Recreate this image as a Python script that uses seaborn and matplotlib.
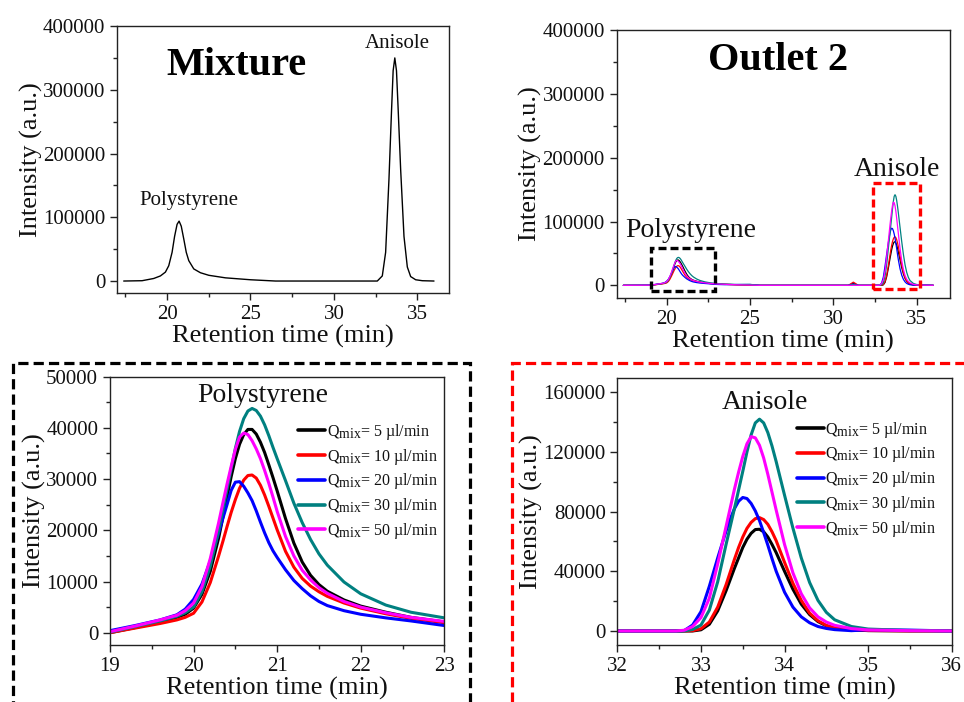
import matplotlib
matplotlib.use("Agg")
import numpy as np
import pandas as pd
import seaborn as sns
import matplotlib.pyplot as plt
from matplotlib.patches import Rectangle
from matplotlib.lines import Line2D
from matplotlib.ticker import MultipleLocator

try:  # larger subscripts in mathtext, as in the reference legend
    import matplotlib._mathtext as _mt
    _mt.SHRINK_FACTOR = 0.85
except Exception:
    pass

# ---------------- data ----------------
flows = [5, 10, 20, 30, 50]
colors = ["#000000", "#FF0000", "#0000FF", "#008080", "#FF00FF"]

# Mixture chromatogram
mix_time = [17.4, 18.5, 19.2, 19.6, 19.9, 20.1, 20.3, 20.45, 20.6, 20.72, 20.85, 21.0, 21.15,
            21.3, 21.6, 22.0, 22.5, 23.5, 25.0, 26.5, 32.6, 32.9, 33.1, 33.3, 33.45, 33.55,
            33.65, 33.75, 33.85, 34.0, 34.2, 34.4, 34.6, 34.9, 35.3, 36.0]
mix_signal = [0, 500, 4000, 8000, 14000, 24000, 45000, 70000, 89000, 94000, 86000, 66000, 45000,
              32000, 19000, 13000, 9000, 5000, 2000, 0, 0, 8000, 45000, 160000, 265000, 330000,
              350000, 330000, 270000, 175000, 70000, 22000, 7000, 2000, 500, 0]

# Polystyrene region (Outlet 2)
ps_time = [19.0, 19.3, 19.6, 19.8, 19.9, 20.0, 20.1, 20.2, 20.3, 20.35, 20.4, 20.45, 20.5,
           20.55, 20.6, 20.65, 20.7, 20.75, 20.8, 20.85, 20.9, 20.95, 21.0, 21.1, 21.2, 21.3,
           21.4, 21.5, 21.6, 21.8, 22.0, 22.3, 22.6, 23.0]
ps_q5 = [0, 1000, 2100, 3000, 3600, 4800, 7500, 12000, 18500, 22500, 26500, 30500, 34000,
         36800, 38700, 39700, 39700, 38800, 37200, 35200, 32800, 30300, 27700, 22300, 17500, 13800,
         11200, 9400, 8100, 6400, 5200, 4000, 3000, 2100]
ps_q10 = [0, 900, 1800, 2500, 3000, 3800, 6000, 9800, 15000, 17800, 20700, 23500, 26000,
          28200, 29800, 30700, 30800, 30200, 28800, 26900, 24700, 22400, 20100, 15900, 12800, 10600,
          9100, 8000, 7100, 5800, 4800, 3700, 2800, 1950]
ps_q20 = [400, 1400, 2500, 3500, 4600, 6500, 9500, 14000, 19500, 22300, 25000, 27800, 29400,
          29500, 28600, 27300, 25800, 23800, 21600, 19500, 17600, 16000, 14700, 12300, 10200, 8600,
          7200, 6100, 5300, 4300, 3600, 2900, 2300, 1400]
ps_q30 = [100, 1200, 2300, 3200, 3900, 5000, 8000, 13000, 20000, 24000, 28000, 32000, 36000,
          39300, 41800, 43300, 43800, 43400, 42300, 40600, 38500, 36200, 34000, 29700, 25300, 21500,
          18200, 15400, 13200, 9900, 7600, 5400, 4000, 2900]
ps_q50 = [200, 1300, 2500, 3400, 4300, 5800, 9000, 14500, 21500, 25300, 29000, 32500, 35800,
          38200, 39000, 38700, 37500, 35900, 34000, 31700, 29200, 26500, 23700, 18800, 15000, 12200,
          10300, 8800, 7700, 6100, 5000, 3900, 3000, 2200]

# Anisole region (Outlet 2)
an_time = [32.0, 32.7, 32.8, 32.9, 33.0, 33.1, 33.2, 33.3, 33.35, 33.4, 33.45, 33.5, 33.55,
           33.6, 33.65, 33.7, 33.75, 33.8, 33.85, 33.9, 34.0, 34.1, 34.2, 34.3, 34.4, 34.5,
           34.6, 34.8, 35.0, 35.5, 36.0]
an_q5 = [0, 0, 0, 0, 800, 4500, 13500, 27000, 34500, 42000, 49000, 56000, 61500,
         65500, 68000, 68200, 66500, 63000, 58000, 52500, 40000, 28000, 18000, 11000, 6300, 3500,
         1900, 700, 250, 0, 0]
an_q10 = [0, 0, 0, 200, 1500, 6000, 16000, 31000, 39500, 48000, 56000, 63000, 68800,
          72800, 75300, 76000, 74700, 71500, 66500, 60500, 46000, 32000, 20500, 12000, 6800, 3700,
          2000, 800, 300, 100, 0]
an_q20 = [0, 0, 300, 4000, 13000, 30000, 49000, 67000, 75000, 82000, 87000, 89500, 88800,
          85500, 80500, 74000, 66000, 57500, 48500, 40000, 26000, 16000, 9500, 5500, 3000, 1700,
          900, 200, 800, 600, 0]
an_q30 = [0, 0, 0, 1000, 4000, 14000, 33000, 58000, 70000, 82000, 94500, 107000, 120000,
          131500, 139500, 142000, 139500, 133000, 124000, 113500, 91000, 69000, 49000, 32500, 20500,
          12500, 7500, 3000, 1300, 300, 0]
an_q50 = [0, 0, 500, 3000, 9000, 22000, 45000, 70000, 82500, 95000, 106500, 117000, 125500,
          130300, 129500, 124500, 116000, 105000, 93000, 81000, 58000, 39000, 25000, 15500, 9500,
          6000, 3800, 1600, 700, 200, 0]

# Baseline between the peaks (Outlet 2 full chromatogram)
start_time = [17.4]
gap_time = [23.5, 24.2, 25.0, 25.6, 30.9, 31.2, 31.5]
gap_q5 = [1600, 1000, 500, 0, 0, 3000, 0]
gap_q10 = [1500, 900, 400, 0, 0, 5000, 0]
gap_q20 = [1000, 1300, 1300, 0, 0, 2000, 0]
gap_q30 = [2000, 1300, 1500, 0, 0, 1500, 0]
gap_q50 = [1600, 900, 400, 0, 0, 0, 0]

ps_all = [ps_q5, ps_q10, ps_q20, ps_q30, ps_q50]
an_all = [an_q5, an_q10, an_q20, an_q30, an_q50]
gap_all = [gap_q5, gap_q10, gap_q20, gap_q30, gap_q50]

labels = [r"Q$_{\mathrm{mix}}$= %d µl/min" % f for f in flows]
palette = dict(zip(labels, colors))

# ---------------- style ----------------
sns.set_theme(style="ticks")
plt.rcParams["font.family"] = ["Liberation Serif", "DejaVu Serif"]
plt.rcParams["mathtext.fontset"] = "custom"
plt.rcParams["mathtext.rm"] = "Liberation Serif"
plt.rcParams["mathtext.it"] = "Liberation Serif:italic"
plt.rcParams["mathtext.bf"] = "Liberation Serif:bold"
TXT = "#111111"

fig = plt.figure(figsize=(9.64, 7.02), dpi=100)
ax_tl = fig.add_axes([0.1214, 0.5826, 0.3444, 0.3803])
ax_tr = fig.add_axes([0.6397, 0.5759, 0.3458, 0.3813])
ax_bl = fig.add_axes([0.1141, 0.0812, 0.3468, 0.3822])
ax_br = fig.add_axes([0.6405, 0.0812, 0.3467, 0.3799])


def long_df(times_list, values_list):
    rows = []
    for lab, times, vals in zip(labels, times_list, values_list):
        for t, v in zip(times, vals):
            rows.append((lab, t, v))
    return pd.DataFrame(rows, columns=["flow", "time", "signal"])


def style(ax, xlim, ylim, xmaj, xmin, ymaj, ymin):
    ax.set_xlim(*xlim)
    ax.set_ylim(*ylim)
    ax.xaxis.set_major_locator(MultipleLocator(xmaj))
    ax.xaxis.set_minor_locator(MultipleLocator(xmin))
    ax.yaxis.set_major_locator(MultipleLocator(ymaj))
    ax.yaxis.set_minor_locator(MultipleLocator(ymin))
    ax.tick_params(which="both", direction="out", top=False, right=False,
                   labelsize=15, colors="#222222", labelcolor=TXT)
    ax.tick_params(which="major", length=5, width=1)
    ax.tick_params(which="minor", length=3, width=1)
    for s in ax.spines.values():
        s.set_linewidth(1.0)
        s.set_color("#222222")
    ax.set_xlabel("Retention time (min)", fontsize=19, color=TXT, labelpad=1)
    ax.set_ylabel("Intensity (a.u.)", fontsize=19, color=TXT, labelpad=0)


# ---- top left: mixture ----
mix_df = pd.DataFrame({"time": mix_time, "signal": mix_signal})
sns.lineplot(data=mix_df, x="time", y="signal", ax=ax_tl, color="black", lw=1.0,
             sort=False, estimator=None)
style(ax_tl, (17, 36.9), (-18800, 400000), 5, 2.5, 100000, 50000)
ax_tl.text(0.361, 0.816, "Mixture", transform=ax_tl.transAxes, ha="center", va="baseline",
           fontsize=29, fontweight="bold", color="black")
ax_tl.text(0.843, 0.919, "Anisole", transform=ax_tl.transAxes, ha="center", va="baseline",
           fontsize=15, color=TXT)
ax_tl.text(0.215, 0.330, "Polystyrene", transform=ax_tl.transAxes, ha="center", va="baseline",
           fontsize=15, color=TXT)

# ---- top right: outlet 2 full ----
full_times = [start_time + ps_time + gap_time + an_time for _ in flows]
full_vals = [[0] + p + g + a for p, g, a in zip(ps_all, gap_all, an_all)]
full_df = long_df(full_times, full_vals)
sns.lineplot(data=full_df, x="time", y="signal", hue="flow", hue_order=labels, palette=palette,
             ax=ax_tr, lw=0.9, sort=False, estimator=None, legend=False)
style(ax_tr, (17, 37), (-19400, 400000), 5, 2.5, 100000, 50000)
ax_tr.text(0.485, 0.851, "Outlet 2", transform=ax_tr.transAxes, ha="center", va="baseline",
           fontsize=29, fontweight="bold", color="black")
ax_tr.text(0.841, 0.456, "Anisole", transform=ax_tr.transAxes, ha="center", va="baseline",
           fontsize=20, color=TXT)
ax_tr.text(0.222, 0.226, "Polystyrene", transform=ax_tr.transAxes, ha="center", va="baseline",
           fontsize=20, color=TXT)
ax_tr.add_patch(Rectangle((19.06, -8900), 22.9 - 19.06, 58000 + 8900, fill=False,
                          ec="black", lw=2.4, ls=(0, (2.4, 1.2)), zorder=5))
ax_tr.add_patch(Rectangle((32.4, -6300), 35.2 - 32.4, 159800 + 6300, fill=False,
                          ec="#FF0000", lw=2.4, ls=(0, (2.4, 1.2)), zorder=5))

# ---- bottom left: polystyrene zoom ----
ps_df = long_df([ps_time] * 5, ps_all)
sns.lineplot(data=ps_df, x="time", y="signal", hue="flow", hue_order=labels, palette=palette,
             ax=ax_bl, lw=2.2, sort=False, estimator=None, legend=False)
style(ax_bl, (19, 23), (-2400, 50000), 1, 0.5, 10000, 5000)
ax_bl.text(0.458, 0.907, "Polystyrene", transform=ax_bl.transAxes, ha="center", va="baseline",
           fontsize=20, color=TXT)

# ---- bottom right: anisole zoom ----
an_df = long_df([an_time] * 5, an_all)
sns.lineplot(data=an_df, x="time", y="signal", hue="flow", hue_order=labels, palette=palette,
             ax=ax_br, lw=2.2, sort=False, estimator=None, legend=False)
style(ax_br, (32, 36), (-9400, 169400), 1, 0.5, 40000, 20000)
ax_br.text(0.44, 0.884, "Anisole", transform=ax_br.transAxes, ha="center", va="baseline",
           fontsize=20, color=TXT)

handles = [Line2D([], [], color=c, lw=2.6) for c in colors]
for ax, anchor in [(ax_bl, (0.562, 0.832)), (ax_br, (0.536, 0.845))]:
    ax.legend(handles, labels, loc="upper left", bbox_to_anchor=anchor, frameon=False,
              fontsize=11.5, handlelength=1.7, handletextpad=0.1, labelspacing=0.3,
              borderpad=0, borderaxespad=0, labelcolor=TXT)

# ---- dashed frames around bottom panels ----
fig.add_artist(Rectangle((13 / 964, -0.05), (470 - 13) / 964, (702 - 363) / 702 + 0.05,
                         transform=fig.transFigure, fill=False, ec="black", lw=2.3,
                         ls=(0, (3.2, 1.6)), clip_on=False))
fig.add_artist(Rectangle((512 / 964, -0.05), (1000 - 512) / 964, (702 - 363) / 702 + 0.05,
                         transform=fig.transFigure, fill=False, ec="#FF0000", lw=2.3,
                         ls=(0, (3.2, 1.6)), clip_on=False))

fig.savefig("out.png", dpi=100)
